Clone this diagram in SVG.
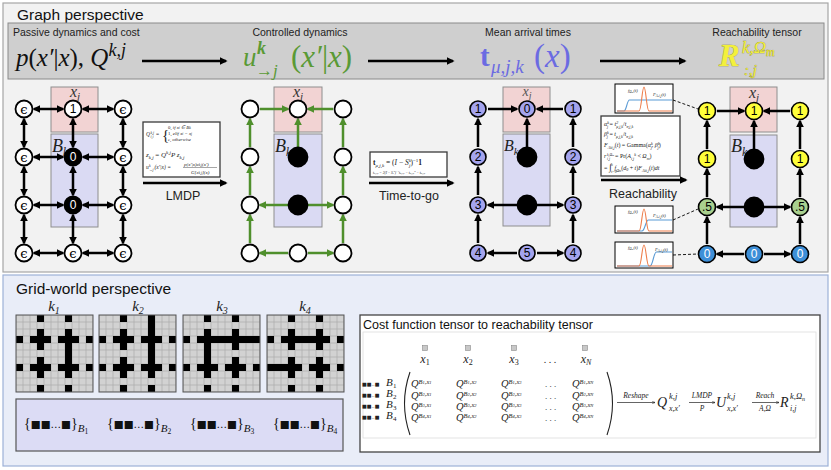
<svg xmlns="http://www.w3.org/2000/svg" width="831" height="470" viewBox="0 0 831 470">
<style>
.sans{font-family:"Liberation Sans",Arial,sans-serif}
.m{font-family:"Liberation Serif","Times New Roman",serif;font-style:italic}
.r{font-family:"Liberation Serif","Times New Roman",serif;font-style:normal}
.nw{fill:#fff;stroke:#000;stroke-width:1.8}
.nb{fill:#000;stroke:#000;stroke-width:1.8}
.nl{fill:#a4a4ee;stroke:#000;stroke-width:1.6}
.ny{fill:#ffff3a;stroke:#000;stroke-width:1.6}
.ng{fill:#a9d08e;stroke:#000;stroke-width:1.6}
.nc{fill:#3d8fd8;stroke:#000;stroke-width:1.6}
.nt{font-family:"Liberation Sans",Arial,sans-serif;font-size:12px;text-anchor:middle;dominant-baseline:central}
.eps{font-family:"DejaVu Serif",serif;font-size:13px;text-anchor:middle;dominant-baseline:central}
.ab{stroke:#000;stroke-width:2.5;fill:none;marker-end:url(#hb)}
.ad{stroke:#000;stroke-width:2.5;fill:none;marker-start:url(#hb);marker-end:url(#hb)}
.ag{stroke:#4f8f2c;stroke-width:2.5;fill:none;marker-end:url(#hg)}
.pink{fill:#f2d3d3;stroke:#8e8e8e;stroke-width:1}
.lav{fill:#dadaf3;stroke:#8e8e8e;stroke-width:1}
.fbox{fill:#fff;stroke:#3a3a3a;stroke-width:1.3}
.f{font-family:"Liberation Serif",serif;font-style:italic;fill:#222}
.dash{stroke:#000;stroke-width:0.9;stroke-dasharray:3 2;fill:none}
.or{stroke:#ed7d4a;stroke-width:1.1;fill:none}
.bl{stroke:#5b9bd5;stroke-width:1.1;fill:none}
.plot{fill:#fff;stroke:#000;stroke-width:1}
.wall{fill:#000}
</style>
<defs>
<marker id="hb" viewBox="0 0 10 10" refX="8" refY="5" markerWidth="3.2" markerHeight="3.2" orient="auto-start-reverse"><path d="M0,0L10,5L0,10z" fill="#000"/></marker>
<marker id="hg" viewBox="0 0 10 10" refX="8" refY="5" markerWidth="3.2" markerHeight="3.2" orient="auto-start-reverse"><path d="M0,0L10,5L0,10z" fill="#4f8f2c"/></marker>
<marker id="hs" viewBox="0 0 10 10" refX="9" refY="5" markerWidth="5" markerHeight="5" orient="auto"><path d="M0,1L10,5L0,9" fill="none" stroke="#000" stroke-width="1.2"/></marker>
<pattern id="cell" width="7" height="7" patternUnits="userSpaceOnUse"><rect width="7" height="7" fill="#d2d2d2" stroke="#a5a5a5" stroke-width="0.6"/></pattern>
<g id="walls" class="wall">
<rect x="21" y="0" width="7" height="7"/><rect x="49" y="0" width="7" height="7"/>
<rect x="21" y="70" width="7" height="7"/><rect x="49" y="70" width="7" height="7"/>
<rect x="0" y="21" width="7" height="7"/><rect x="0" y="49" width="7" height="7"/>
<rect x="70" y="21" width="7" height="7"/><rect x="70" y="49" width="7" height="7"/>
<rect x="14" y="21" width="21" height="7"/><rect x="21" y="14" width="7" height="21"/>
<rect x="42" y="21" width="21" height="7"/><rect x="49" y="14" width="7" height="21"/>
<rect x="14" y="49" width="21" height="7"/><rect x="21" y="42" width="7" height="21"/>
<rect x="42" y="49" width="21" height="7"/><rect x="49" y="42" width="7" height="21"/>
</g>
</defs>

<!-- Top panel -->
<g id="panel-graph">
<rect x="3" y="3" width="825" height="269" fill="#f2f2f2" stroke="#a6a6a6" stroke-width="1.2"/>
<text class="sans" x="17" y="20" font-size="15.5" fill="#111">Graph perspective</text>
<rect x="8" y="23" width="816" height="56" fill="#cfcfcf" stroke="#8a8a8a" stroke-width="1"/>
<text class="sans" x="13" y="36" font-size="10.5" fill="#222">Passive dynamics and cost</text>
<text class="sans" x="300" y="36" font-size="10.5" fill="#222" text-anchor="middle">Controlled dynamics</text>
<text class="sans" x="528" y="36" font-size="10.5" fill="#222" text-anchor="middle">Mean arrival times</text>
<text class="sans" x="757" y="36" font-size="10.5" fill="#222" text-anchor="middle">Reachability tensor</text>
</g>

<g id="formula-passive">
<text class="m" font-size="25" x="16" y="66" fill="#111">p<tspan class="r">(</tspan>x′<tspan class="r">|</tspan>x<tspan class="r">),</tspan> Q<tspan font-size="18" dy="-10">k,j</tspan></text>
</g>
<g id="formula-controlled" fill="#5a9a35">
<text class="m" font-size="27" x="243" y="66">u</text>
<text class="m" font-size="18" x="257" y="54" font-weight="bold">k</text>
<text class="r" font-size="17" x="256" y="76">→<tspan class="m">j</tspan></text>
<text class="m" font-size="31" x="291" y="67"><tspan class="r">(</tspan>x′<tspan class="r">|</tspan>x<tspan class="r">)</tspan></text>
</g>
<g id="formula-mean" fill="#6b6be2">
<text class="r" font-size="29" x="480" y="66" font-weight="bold">t</text>
<text class="m" font-size="19" x="491" y="73">μ,j,k</text>
<text class="m" font-size="33" x="534" y="67"><tspan class="r">(</tspan>x<tspan class="r">)</tspan></text>
</g>
<g id="formula-reach" fill="#f3f03c" stroke="#8f8c30" stroke-width="0.6" paint-order="stroke">
<text class="m" font-size="31" x="719" y="66" font-weight="bold">R</text>
<text class="m" font-size="17" x="742" y="53">k,Ω<tspan font-size="12" dy="3">m</tspan></text>
<text class="m" font-size="15" x="744" y="75">:,j</text>
</g>

<g id="top-connectors">
<path class="ab" d="M142,61H226"/>
<path class="ab" d="M368,61H453"/>
<path class="ab" d="M600,61H685"/>
</g>

<!-- Graph 1 : passive -->
<g id="graph1-regions">
<rect class="pink" x="51" y="87" width="47" height="45"/>
<rect class="lav" x="51" y="134" width="47" height="93"/>
<text class="m" x="75" y="97" font-size="16" text-anchor="middle" fill="#333">x<tspan font-size="11" dy="3">j</tspan></text>
<text class="m" x="52" y="152" font-size="18" fill="#222">B<tspan font-size="12" dy="4">k</tspan></text>
</g>
<g id="graph1-connectors">
<path class="ad" d="M34,109H63"/><path class="ad" d="M83,109H113"/>
<path class="ad" d="M34,157H63"/><path class="ad" d="M83,157H113"/>
<path class="ad" d="M34,205H63"/><path class="ad" d="M83,205H113"/>
<path class="ad" d="M34,253H63"/><path class="ad" d="M83,253H113"/>
<path class="ad" d="M24,119V147"/><path class="ad" d="M24,167V195"/><path class="ad" d="M24,215V243"/>
<path class="ad" d="M73,119V147"/><path class="ad" d="M73,167V195"/><path class="ad" d="M73,215V243"/>
<path class="ad" d="M123,119V147"/><path class="ad" d="M123,167V195"/><path class="ad" d="M123,215V243"/>
</g>
<g id="g1-n00"><circle class="nw" cx="24" cy="109" r="8.5"/><text class="eps" x="24" y="109">ϵ</text></g>
<g id="g1-n01"><circle class="nw" cx="73" cy="109" r="8.5"/><text class="nt" x="73" y="109">1</text></g>
<g id="g1-n02"><circle class="nw" cx="123" cy="109" r="8.5"/><text class="eps" x="123" y="109">ϵ</text></g>
<g id="g1-n10"><circle class="nw" cx="24" cy="157" r="8.5"/><text class="eps" x="24" y="157">ϵ</text></g>
<g id="g1-n11"><circle class="nb" cx="73" cy="157" r="8.5"/><text class="nt" x="73" y="157" fill="#fff">0</text></g>
<g id="g1-n12"><circle class="nw" cx="123" cy="157" r="8.5"/><text class="eps" x="123" y="157">ϵ</text></g>
<g id="g1-n20"><circle class="nw" cx="24" cy="205" r="8.5"/><text class="eps" x="24" y="205">ϵ</text></g>
<g id="g1-n21"><circle class="nb" cx="73" cy="205" r="8.5"/><text class="nt" x="73" y="205" fill="#fff">0</text></g>
<g id="g1-n22"><circle class="nw" cx="123" cy="205" r="8.5"/><text class="eps" x="123" y="205">ϵ</text></g>
<g id="g1-n30"><circle class="nw" cx="24" cy="253" r="8.5"/><text class="eps" x="24" y="253">ϵ</text></g>
<g id="g1-n31"><circle class="nw" cx="73" cy="253" r="8.5"/><text class="eps" x="73" y="253">ϵ</text></g>
<g id="g1-n32"><circle class="nw" cx="123" cy="253" r="8.5"/><text class="eps" x="123" y="253">ϵ</text></g>

<!-- LMDP step -->
<g id="lmdp-box">
<rect class="fbox" x="143" y="122" width="77" height="55"/>
<text class="f" x="146" y="136" font-size="5.5">Q</text>
<text class="f" x="150.5" y="133.5" font-size="3.6">k,j</text>
<text class="f" x="150.5" y="138" font-size="3.6">i,i</text>
<text class="r" x="156" y="136" font-size="5.5" fill="#222">=</text>
<text class="r" x="162" y="140" font-size="15" fill="#222">{</text>
<text class="f" x="168" y="129" font-size="4.8"><tspan class="r">0,</tspan>  if x<tspan font-size="3.5">i</tspan> ∈ B<tspan font-size="3.5">k</tspan></text>
<text class="f" x="168" y="135" font-size="4.8"><tspan class="r">1,</tspan>  elif x<tspan font-size="3.5">i</tspan> = x<tspan font-size="3.5">j</tspan></text>
<text class="f" x="168" y="141" font-size="4.8">ϵ,  otherwise</text>
<text class="f" x="146" y="157" font-size="7">z<tspan font-size="5" dy="1.5">k,j</tspan><tspan dy="-1.5" class="r"> = </tspan>Q<tspan font-size="5" dy="-3">k,j</tspan><tspan dy="3">P z</tspan><tspan font-size="5" dy="1.5">k,j</tspan></text>
<text class="f" x="146" y="169" font-size="5.5">u</text>
<text class="f" x="149" y="166.5" font-size="3.6">k</text>
<text class="f" x="149" y="171" font-size="3.6">→j</text>
<text class="f" x="154.5" y="169" font-size="5.5">(x′|x) =</text>
<text class="f" x="184" y="165.5" font-size="5">p(x′|x)z<tspan font-size="3.5">k,j</tspan>(x′)</text>
<path d="M183,167.5H217" stroke="#222" stroke-width="0.4"/>
<text class="f" x="191" y="173.5" font-size="5">G[z<tspan font-size="3.5">k,j</tspan>](x)</text>
</g>
<g id="lmdp-connector">
<path class="ab" d="M143,183H226"/>
<text class="sans" x="183" y="200" font-size="12.5" text-anchor="middle" fill="#222">LMDP</text>
</g>

<!-- Graph 2 : controlled -->
<g id="graph2-regions">
<rect class="pink" x="274" y="87" width="48" height="45"/>
<rect class="lav" x="274" y="134" width="48" height="93"/>
<text class="m" x="298" y="97" font-size="16" text-anchor="middle" fill="#333">x<tspan font-size="11" dy="3">j</tspan></text>
<text class="m" x="275" y="152" font-size="18" fill="#222">B<tspan font-size="12" dy="4">k</tspan></text>
</g>
<g id="graph2-connectors">
<path class="ag" d="M260,109H288"/><path class="ag" d="M333,109H308"/><path class="ag" d="M298,147V119"/>
<path class="ag" d="M250,147V119"/><path class="ag" d="M250,195V167"/><path class="ag" d="M250,243V215"/>
<path class="ag" d="M343,147V119"/><path class="ag" d="M343,195V167"/><path class="ag" d="M343,243V215"/>
<path class="ag" d="M288,205H260"/><path class="ag" d="M308,205H333"/>
<path class="ag" d="M288,253H260"/><path class="ag" d="M308,253H333"/>
</g>
<g id="g2-n00"><circle class="nw" cx="250" cy="109" r="8.5"/></g>
<g id="g2-n01"><circle class="nw" cx="298" cy="109" r="8.5"/></g>
<g id="g2-n02"><circle class="nw" cx="343" cy="109" r="8.5"/></g>
<g id="g2-n10"><circle class="nw" cx="250" cy="157" r="8.5"/></g>
<g id="g2-n11"><circle class="nb" cx="298" cy="157" r="9.5"/></g>
<g id="g2-n12"><circle class="nw" cx="343" cy="157" r="8.5"/></g>
<g id="g2-n20"><circle class="nw" cx="250" cy="205" r="8.5"/></g>
<g id="g2-n21"><circle class="nb" cx="298" cy="205" r="9.5"/></g>
<g id="g2-n22"><circle class="nw" cx="343" cy="205" r="8.5"/></g>
<g id="g2-n30"><circle class="nw" cx="250" cy="253" r="8.5"/></g>
<g id="g2-n31"><circle class="nw" cx="298" cy="253" r="8.5"/></g>
<g id="g2-n32"><circle class="nw" cx="343" cy="253" r="8.5"/></g>

<!-- Time-to-go step -->
<g id="ttg-box">
<rect class="fbox" x="370" y="152" width="77" height="25"/>
<text class="f" x="373" y="165" font-size="7.5"><tspan class="r" font-weight="bold">t</tspan><tspan font-size="5" dy="1.5">μ,j,k</tspan><tspan class="r" dy="-1.5"> = (</tspan>I<tspan class="r"> − </tspan>S<tspan font-size="5" dy="-3">k</tspan><tspan font-size="5" dx="-2" dy="5">j</tspan><tspan class="r" dy="-2">)</tspan><tspan class="r" font-size="5" dy="-3">−1</tspan><tspan class="r" font-weight="bold" dy="3">1</tspan></text>
<text class="f" x="373" y="173.5" font-size="3.6">t<tspan font-size="2.6">σ,j,k</tspan> = 2(I − S<tspan font-size="2.6">j</tspan><tspan font-size="2.6" dy="-1.5">k</tspan><tspan dy="1.5">)</tspan><tspan font-size="2.6" dy="-1.5">−1</tspan><tspan dy="1.5">t</tspan><tspan font-size="2.6">μ,j,k</tspan> − t<tspan font-size="2.6">μ,j,k</tspan><tspan font-size="2.6" dy="-1.5">2</tspan><tspan dy="1.5"> − t</tspan><tspan font-size="2.6">μ,j,k</tspan></text>
</g>
<g id="ttg-connector">
<path class="ab" d="M369,183H453"/>
<text class="sans" x="409" y="200" font-size="12.5" text-anchor="middle" fill="#222">Time-to-go</text>
</g>

<!-- Graph 3 : mean arrival times -->
<g id="graph3-regions">
<rect class="pink" x="503" y="87" width="47" height="45"/>
<rect class="lav" x="503" y="134" width="47" height="92"/>
<text class="m" x="527" y="96" font-size="14" text-anchor="middle" fill="#555">x<tspan font-size="10" dy="3">j</tspan></text>
<text class="m" x="504" y="151" font-size="16" fill="#222">B<tspan font-size="11" dy="4">k</tspan></text>
</g>
<g id="graph3-connectors">
<path class="ab" d="M488,109H517"/><path class="ab" d="M563,109H537"/><path class="ab" d="M527,147V119"/>
<path class="ab" d="M478,147V119"/><path class="ab" d="M478,195V167"/><path class="ab" d="M478,243V215"/>
<path class="ab" d="M573,147V119"/><path class="ab" d="M573,195V167"/><path class="ab" d="M573,243V215"/>
<path class="ab" d="M517,205H488"/><path class="ab" d="M537,205H563"/>
<path class="ab" d="M517,253H488"/><path class="ab" d="M537,253H563"/>
</g>
<g id="g3-n00"><circle class="nl" cx="478" cy="109" r="8"/><text class="nt" x="478" y="109">1</text></g>
<g id="g3-n01"><circle class="nl" cx="527" cy="109" r="8"/><text class="nt" x="527" y="109">0</text></g>
<g id="g3-n02"><circle class="nl" cx="573" cy="109" r="8"/><text class="nt" x="573" y="109">1</text></g>
<g id="g3-n10"><circle class="nl" cx="478" cy="157" r="8"/><text class="nt" x="478" y="157">2</text></g>
<g id="g3-n11"><circle class="nb" cx="527" cy="157" r="9.5"/></g>
<g id="g3-n12"><circle class="nl" cx="573" cy="157" r="8"/><text class="nt" x="573" y="157">2</text></g>
<g id="g3-n20"><circle class="nl" cx="478" cy="205" r="8"/><text class="nt" x="478" y="205">3</text></g>
<g id="g3-n21"><circle class="nb" cx="527" cy="205" r="9.5"/></g>
<g id="g3-n22"><circle class="nl" cx="573" cy="205" r="8"/><text class="nt" x="573" y="205">3</text></g>
<g id="g3-n30"><circle class="nl" cx="478" cy="253" r="8"/><text class="nt" x="478" y="253">4</text></g>
<g id="g3-n31"><circle class="nl" cx="527" cy="253" r="8"/><text class="nt" x="527" y="253">5</text></g>
<g id="g3-n32"><circle class="nl" cx="573" cy="253" r="8"/><text class="nt" x="573" y="253">4</text></g>

<!-- Reachability step -->
<g id="reach-box">
<rect class="fbox" x="601" y="116" width="79" height="60"/>
<text class="f" x="604" y="126" font-size="6">α<tspan font-size="4" dy="-2">k</tspan><tspan font-size="4" dx="-2" dy="4">j</tspan><tspan class="r" dy="-2"> = </tspan>t<tspan font-size="4" dy="-2">2</tspan><tspan font-size="4" dx="-2" dy="3.5">μ,j,k</tspan><tspan class="r" dy="-1.5">/</tspan>t<tspan font-size="4" dy="1.5">σ,j,k</tspan></text>
<text class="f" x="604" y="136" font-size="6">β<tspan font-size="4" dy="-2">k</tspan><tspan font-size="4" dx="-2" dy="4">j</tspan><tspan class="r" dy="-2"> = </tspan>t<tspan font-size="4" dy="1.5">μ,j,k</tspan><tspan class="r" dy="-1.5">/</tspan>t<tspan font-size="4" dy="1.5">σ,j,k</tspan></text>
<text class="f" x="604" y="147" font-size="6">F<tspan font-size="4" dy="1.5">A<tspan font-size="3">k</tspan>i,j</tspan><tspan class="r" dy="-1.5">(</tspan>t<tspan class="r">) = Gamma(</tspan>α<tspan font-size="4" dy="-2">k</tspan><tspan font-size="4" dx="-2" dy="4">j</tspan><tspan class="r" dy="-2">, </tspan>β<tspan font-size="4" dy="-2">k</tspan><tspan font-size="4" dx="-2" dy="4">j</tspan><tspan class="r" dy="-2">)</tspan></text>
<text class="f" x="604" y="158" font-size="6">r</text>
<text class="f" x="607" y="155.5" font-size="3.6">k,Ω<tspan font-size="2.8">m</tspan></text>
<text class="f" x="607" y="160" font-size="3.6">i,j</text>
<text class="f" x="615" y="158" font-size="6"><tspan class="r">= Pr(</tspan>A<tspan font-size="4" dy="1.5">i,j</tspan><tspan font-size="4" dy="-3.5">k</tspan><tspan class="r" dy="2"> &lt; </tspan>Ω<tspan font-size="4" dy="1.5">m</tspan><tspan class="r" dy="-1.5">)</tspan></text>
<text class="f" x="604" y="170" font-size="6"><tspan class="r">= </tspan><tspan class="r" font-size="9">∫</tspan><tspan font-size="3.5" dy="3">t=0</tspan><tspan font-size="3.5" dx="-6" dy="-7">∞</tspan><tspan dy="4"> f</tspan><tspan font-size="4" dy="1.5">Ω<tspan font-size="3">m</tspan></tspan><tspan class="r" dy="-1.5">(</tspan>d<tspan font-size="4" dy="1">0</tspan><tspan class="r" dy="-1"> + </tspan>t<tspan class="r">)</tspan>F<tspan font-size="4" dy="1.5">A<tspan font-size="3">k</tspan>i,j</tspan><tspan class="r" dy="-1.5">(</tspan>t<tspan class="r">)</tspan>dt</text>
</g>
<g id="reach-connector">
<path class="ab" d="M601,180H686"/>
<text class="sans" x="643" y="198" font-size="12.5" text-anchor="middle" fill="#222">Reachability</text>
</g>

<g id="plot-top">
<rect class="plot" x="615" y="84" width="58" height="29"/>
<path class="bl" d="M617,111H624C626.5,111 627,100 629.5,100H672"/>
<path class="or" d="M617,111H639C641.5,111 642,87 644,87C646,87 646.5,111 649,111H672"/>
<text class="f" x="628" y="92" font-size="4.5">f<tspan font-size="3.2" dy="1">Ω<tspan font-size="2.5">m</tspan></tspan><tspan dy="-1">(t)</tspan></text>
<text class="f" x="653" y="96" font-size="4.5">F<tspan font-size="3.2" dy="1">A<tspan font-size="2.5">k</tspan>i,j</tspan><tspan dy="-1">(t)</tspan></text>
</g>
<g id="plot-mid">
<rect class="plot" x="615" y="206" width="58" height="27"/>
<path class="bl" d="M617,231H642C645,231 645.5,220 648.5,220H672"/>
<path class="or" d="M617,231H639C641.5,231 642,209 644,209C646,209 646.5,231 649,231H672"/>
<text class="f" x="628" y="213" font-size="4.5">f<tspan font-size="3.2" dy="1">Ω<tspan font-size="2.5">m</tspan></tspan><tspan dy="-1">(t)</tspan></text>
<text class="f" x="653" y="217" font-size="4.5">F<tspan font-size="3.2" dy="1">A<tspan font-size="2.5">k</tspan>i,j</tspan><tspan dy="-1">(t)</tspan></text>
</g>
<g id="plot-bot">
<rect class="plot" x="615" y="242" width="58" height="26"/>
<path class="bl" d="M617,266H650C653,266 653.5,252 656.5,252H672"/>
<path class="or" d="M617,266H639C641.5,266 642,245 644,245C646,245 646.5,266 649,266H672"/>
<text class="f" x="628" y="249" font-size="4.5">f<tspan font-size="3.2" dy="1">Ω<tspan font-size="2.5">m</tspan></tspan><tspan dy="-1">(t)</tspan></text>
<text class="f" x="655" y="251" font-size="4.5">F<tspan font-size="3.2" dy="1">A<tspan font-size="2.5">k</tspan>i,j</tspan><tspan dy="-1">(t)</tspan></text>
</g>
<g id="plot-links">
<path class="dash" d="M673,100L698,109"/>
<path class="dash" d="M673,220L698,209"/>
<path class="dash" d="M673,255L698,254"/>
</g>

<!-- Graph 4 : reachability -->
<g id="graph4-regions">
<rect class="pink" x="730" y="87" width="47" height="45"/>
<rect class="lav" x="730" y="135" width="47" height="92"/>
<text class="m" x="754" y="98" font-size="16" text-anchor="middle" fill="#333">x<tspan font-size="11" dy="3">j</tspan></text>
<text class="m" x="731" y="152" font-size="18" fill="#222">B<tspan font-size="12" dy="4">k</tspan></text>
</g>
<g id="graph4-connectors">
<path class="ab" d="M717,111H744"/><path class="ab" d="M790,111H764"/><path class="ab" d="M754,149V121"/>
<path class="ab" d="M707,149V121"/><path class="ab" d="M707,197V169"/><path class="ab" d="M707,244V217"/>
<path class="ab" d="M800,149V121"/><path class="ab" d="M800,197V169"/><path class="ab" d="M800,244V217"/>
<path class="ab" d="M744,207H717"/><path class="ab" d="M764,207H790"/>
<path class="ab" d="M744,254H717"/><path class="ab" d="M764,254H790"/>
</g>
<g id="g4-n00"><circle class="ny" cx="707" cy="111" r="8.5"/><text class="nt" x="707" y="111">1</text></g>
<g id="g4-n01"><circle class="ny" cx="754" cy="111" r="8.5"/><text class="nt" x="754" y="111">1</text></g>
<g id="g4-n02"><circle class="ny" cx="800" cy="111" r="8.5"/><text class="nt" x="800" y="111">1</text></g>
<g id="g4-n10"><circle class="ny" cx="707" cy="159" r="8.5"/><text class="nt" x="707" y="159">1</text></g>
<g id="g4-n11"><circle class="nb" cx="754" cy="159" r="9.5"/></g>
<g id="g4-n12"><circle class="ny" cx="800" cy="159" r="8.5"/><text class="nt" x="800" y="159">1</text></g>
<g id="g4-n20"><circle class="ng" cx="707" cy="207" r="8.5"/><text class="nt" x="707" y="207">.5</text></g>
<g id="g4-n21"><circle class="nb" cx="754" cy="207" r="9.5"/></g>
<g id="g4-n22"><circle class="ng" cx="800" cy="207" r="8.5"/><text class="nt" x="800" y="207">.5</text></g>
<g id="g4-n30"><circle class="nc" cx="707" cy="254" r="8.5"/><text class="nt" x="707" y="254" fill="#fff">0</text></g>
<g id="g4-n31"><circle class="nc" cx="754" cy="254" r="8.5"/><text class="nt" x="754" y="254" fill="#fff">0</text></g>
<g id="g4-n32"><circle class="nc" cx="800" cy="254" r="8.5"/><text class="nt" x="800" y="254" fill="#fff">0</text></g>

<!-- Bottom panel -->
<g id="panel-grid">
<rect x="3" y="275" width="825" height="191" fill="#e9edf8" stroke="#9db1d8" stroke-width="1.2"/>
<text class="sans" x="16" y="294" font-size="15.5" fill="#111">Grid-world perspective</text>
</g>
<g id="grid-labels" class="m" font-size="15" fill="#222" text-anchor="middle">
<text x="54" y="311">k<tspan font-size="10" dy="3">1</tspan></text>
<text x="138" y="311">k<tspan font-size="10" dy="3">2</tspan></text>
<text x="222" y="311">k<tspan font-size="10" dy="3">3</tspan></text>
<text x="305" y="311">k<tspan font-size="10" dy="3">4</tspan></text>
</g>
<g id="grid-k1" transform="translate(16,315)">
<rect width="77" height="77" fill="url(#cell)"/><use href="#walls"/>
<rect class="wall" x="49" y="14" width="7" height="49"/>
<rect width="77" height="77" fill="none" stroke="#555" stroke-width="1"/>
</g>
<g id="grid-k2" transform="translate(99,315)">
<rect width="77" height="77" fill="url(#cell)"/><use href="#walls"/>
<rect class="wall" x="49" y="0" width="7" height="63"/>
<rect width="77" height="77" fill="none" stroke="#555" stroke-width="1"/>
</g>
<g id="grid-k3" transform="translate(183,315)">
<rect width="77" height="77" fill="url(#cell)"/><use href="#walls"/>
<rect class="wall" x="14" y="21" width="63" height="7"/><rect class="wall" x="21" y="14" width="7" height="49"/>
<rect width="77" height="77" fill="none" stroke="#555" stroke-width="1"/>
</g>
<g id="grid-k4" transform="translate(267,315)">
<rect width="77" height="77" fill="url(#cell)"/><use href="#walls"/>
<rect class="wall" x="14" y="21" width="49" height="7"/><rect class="wall" x="0" y="49" width="35" height="7"/>
<rect width="77" height="77" fill="none" stroke="#555" stroke-width="1"/>
</g>

<g id="blocks-box">
<rect x="16" y="399" width="327" height="52" fill="#dcdcf5" stroke="#555" stroke-width="1.2"/>
<g font-size="14" fill="#111">
<text x="24" y="428"><tspan class="r">{</tspan><tspan font-family="DejaVu Sans" font-size="10.5">■■…■</tspan><tspan class="r">}</tspan><tspan class="m" font-size="11" dy="4">B</tspan><tspan class="r" font-size="7.5" dy="2">1</tspan></text>
<text x="107" y="428"><tspan class="r">{</tspan><tspan font-family="DejaVu Sans" font-size="10.5">■■…■</tspan><tspan class="r">}</tspan><tspan class="m" font-size="11" dy="4">B</tspan><tspan class="r" font-size="7.5" dy="2">2</tspan></text>
<text x="190" y="428"><tspan class="r">{</tspan><tspan font-family="DejaVu Sans" font-size="10.5">■■…■</tspan><tspan class="r">}</tspan><tspan class="m" font-size="11" dy="4">B</tspan><tspan class="r" font-size="7.5" dy="2">3</tspan></text>
<text x="273" y="428"><tspan class="r">{</tspan><tspan font-family="DejaVu Sans" font-size="10.5">■■…■</tspan><tspan class="r">}</tspan><tspan class="m" font-size="11" dy="4">B</tspan><tspan class="r" font-size="7.5" dy="2">4</tspan></text>
</g>
</g>

<!-- Cost function tensor box -->
<g id="tensor-box">
<rect x="360" y="315" width="460" height="137" fill="#fff" stroke="#444" stroke-width="1.3"/>
<text class="sans" x="363" y="329" font-size="12.5" fill="#111">Cost function tensor to reachability tensor</text>
<rect x="363" y="332" width="453" height="106" fill="none" stroke="#dddddd" stroke-width="0.8"/>
</g>
<g id="tensor-header" fill="#c8c8c8" stroke="#8a8a8a" stroke-width="0.6">
<rect x="422.5" y="345.5" width="5" height="5"/><rect x="465.5" y="345.5" width="5" height="5"/><rect x="511.5" y="345.5" width="5" height="5"/><rect x="582.5" y="345.5" width="5" height="5"/>
</g>
<g id="tensor-cols" class="m" font-size="12" fill="#222" text-anchor="middle">
<text x="425" y="363">x<tspan class="r" font-size="8" dy="2">1</tspan></text>
<text x="468" y="363">x<tspan class="r" font-size="8" dy="2">2</tspan></text>
<text x="514" y="363">x<tspan class="r" font-size="8" dy="2">3</tspan></text>
<text class="r" x="550" y="363" font-size="10">. . .</text>
<text x="586" y="363">x<tspan font-size="8" dy="2">N</tspan></text>
</g>
<g id="tensor-rows" fill="#222">
<g font-family="DejaVu Sans" font-size="5">
<text x="362" y="386">■■..■</text><text x="362" y="397">■■..■</text><text x="362" y="408">■■..■</text><text x="362" y="419">■■..■</text>
</g>
<g class="m" font-size="11">
<text x="386" y="386">B</text><text class="r" x="393" y="388" font-size="7">1</text>
<text x="386" y="397">B</text><text class="r" x="393" y="399" font-size="7">2</text>
<text x="386" y="408">B</text><text class="r" x="393" y="410" font-size="7">3</text>
<text x="386" y="419">B</text><text class="r" x="393" y="421" font-size="7">4</text>
</g>
<path d="M410,372Q399,403.5 410,435" fill="none" stroke="#222" stroke-width="1.1"/>
<path d="M607,372Q618,403.5 607,435" fill="none" stroke="#222" stroke-width="1.1"/>
<g class="m" font-size="10.5">
<text x="411" y="387">Q<tspan font-size="6.5" dy="-3.5">B<tspan font-size="4.5">1</tspan>,x<tspan font-size="4.5">1</tspan></tspan></text>
<text x="456" y="387">Q<tspan font-size="6.5" dy="-3.5">B<tspan font-size="4.5">1</tspan>,x<tspan font-size="4.5">2</tspan></tspan></text>
<text x="501" y="387">Q<tspan font-size="6.5" dy="-3.5">B<tspan font-size="4.5">1</tspan>,x<tspan font-size="4.5">3</tspan></tspan></text>
<text class="r" x="545" y="387" font-size="9">. . .</text>
<text x="572" y="387">Q<tspan font-size="6.5" dy="-3.5">B<tspan font-size="4.5">1</tspan>,x<tspan font-size="4.5">N</tspan></tspan></text>
<text x="411" y="399">Q<tspan font-size="6.5" dy="-3.5">B<tspan font-size="4.5">2</tspan>,x<tspan font-size="4.5">1</tspan></tspan></text>
<text x="456" y="399">Q<tspan font-size="6.5" dy="-3.5">B<tspan font-size="4.5">2</tspan>,x<tspan font-size="4.5">2</tspan></tspan></text>
<text x="501" y="399">Q<tspan font-size="6.5" dy="-3.5">B<tspan font-size="4.5">2</tspan>,x<tspan font-size="4.5">3</tspan></tspan></text>
<text class="r" x="545" y="399" font-size="9">. . .</text>
<text x="572" y="399">Q<tspan font-size="6.5" dy="-3.5">B<tspan font-size="4.5">2</tspan>,x<tspan font-size="4.5">N</tspan></tspan></text>
<text x="411" y="410">Q<tspan font-size="6.5" dy="-3.5">B<tspan font-size="4.5">3</tspan>,x<tspan font-size="4.5">1</tspan></tspan></text>
<text x="456" y="410">Q<tspan font-size="6.5" dy="-3.5">B<tspan font-size="4.5">3</tspan>,x<tspan font-size="4.5">2</tspan></tspan></text>
<text x="501" y="410">Q<tspan font-size="6.5" dy="-3.5">B<tspan font-size="4.5">3</tspan>,x<tspan font-size="4.5">3</tspan></tspan></text>
<text class="r" x="545" y="410" font-size="9">. . .</text>
<text x="572" y="410">Q<tspan font-size="6.5" dy="-3.5">B<tspan font-size="4.5">3</tspan>,x<tspan font-size="4.5">N</tspan></tspan></text>
<text x="411" y="421">Q<tspan font-size="6.5" dy="-3.5">B<tspan font-size="4.5">4</tspan>,x<tspan font-size="4.5">1</tspan></tspan></text>
<text x="456" y="421">Q<tspan font-size="6.5" dy="-3.5">B<tspan font-size="4.5">4</tspan>,x<tspan font-size="4.5">2</tspan></tspan></text>
<text x="501" y="421">Q<tspan font-size="6.5" dy="-3.5">B<tspan font-size="4.5">4</tspan>,x<tspan font-size="4.5">3</tspan></tspan></text>
<text class="r" x="545" y="421" font-size="9">. . .</text>
<text x="572" y="421">Q<tspan font-size="6.5" dy="-3.5">B<tspan font-size="4.5">4</tspan>,x<tspan font-size="4.5">N</tspan></tspan></text>
</g>
</g>
<g id="tensor-pipeline" fill="#222">
<path d="M617,402.5H655" stroke="#222" stroke-width="0.7" marker-end="url(#hs)"/>
<text class="m" x="636" y="398" font-size="7.5" text-anchor="middle">Reshape</text>
<text class="m" x="657" y="407" font-size="14">Q</text>
<text class="m" x="669" y="399" font-size="8.5">k,j</text>
<text class="m" x="669" y="411" font-size="8">x,x′</text>
<path d="M689,402.5H715" stroke="#222" stroke-width="0.7" marker-end="url(#hs)"/>
<text class="m" x="702" y="398" font-size="7.5" text-anchor="middle">LMDP</text>
<text class="m" x="702" y="411" font-size="7.5" text-anchor="middle">P</text>
<text class="m" x="716" y="407" font-size="14">U</text>
<text class="m" x="727" y="399" font-size="8.5">k,j</text>
<text class="m" x="727" y="411" font-size="8">x,x′</text>
<path d="M752,402.5H779" stroke="#222" stroke-width="0.7" marker-end="url(#hs)"/>
<text class="m" x="765" y="398" font-size="7.5" text-anchor="middle">Reach</text>
<text class="m" x="765" y="411" font-size="7.5" text-anchor="middle">A,Ω</text>
<text class="m" x="780" y="407" font-size="14">R</text>
<text class="m" x="790" y="399" font-size="8.5">k,Ω<tspan font-size="6" dy="1.5">n</tspan></text>
<text class="m" x="790" y="411" font-size="8">i,j</text>
</g>
</svg>
